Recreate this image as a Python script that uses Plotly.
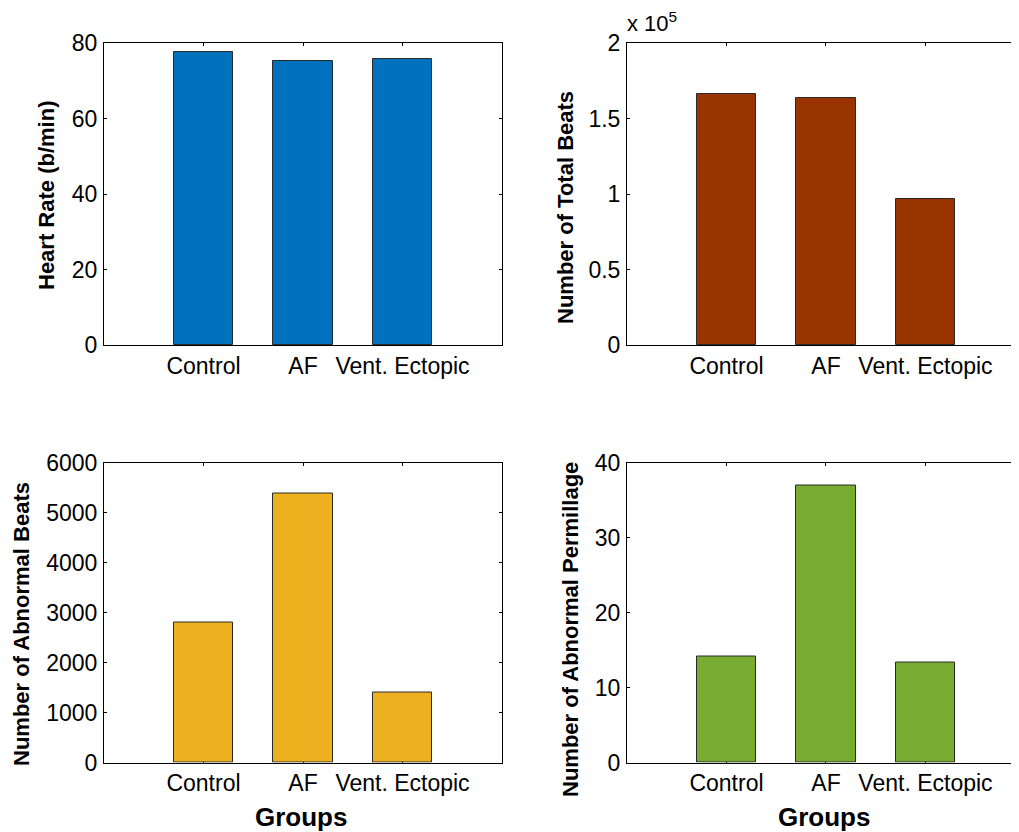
import plotly.graph_objects as go

categories = ["Control", "AF", "Vent. Ectopic"]
x_pos = [1, 2, 3]
heart_rate = [77.5, 75.3, 75.7]
total_beats = [166500, 163700, 97000]
abnormal_beats = [2800, 5375, 1395]
abnormal_permillage = [14.2, 37.0, 13.4]

colors = ["#0072BD", "#993300", "#EDB120", "#77AC30"]

# the page body has an 8px margin; work in page pixels and convert
OFF = 8
W, H = 1011, 824
FONT = "Arial, 'Liberation Sans', Helvetica, sans-serif"

def px_x(p):
    return (p - OFF) / W

def px_y(p):
    return 1 - (p - OFF) / H

fig = go.Figure()

panels = [
    (heart_rate, colors[0], (104, 502), (43, 345), [0, 80], [0, 20, 40, 60, 80], ["0", "20", "40", "60", "80"], True, [0, 4]),
    (total_beats, colors[1], (627, 1019), (43, 345), [0, 200000], [0, 50000, 100000, 150000, 200000], ["0", "0.5", "1", "1.5", "2"], False, [0, 3.94]),
    (abnormal_beats, colors[2], (104, 502), (462.5, 762.5), [0, 6000], [0, 1000, 2000, 3000, 4000, 5000, 6000], ["0", "1000", "2000", "3000", "4000", "5000", "6000"], True, [0, 4]),
    (abnormal_permillage, colors[3], (627, 1019), (462.5, 762.5), [0, 40], [0, 10, 20, 30, 40], ["0", "10", "20", "30", "40"], False, [0, 3.94]),
]

for i, (vals, col, xd, yd, yr, tv, tt, right, xr) in enumerate(panels):
    n = i + 1
    xa = "x" if n == 1 else f"x{n}"
    ya = "y" if n == 1 else f"y{n}"
    fig.add_trace(go.Bar(
        x=x_pos, y=vals, width=0.6, xaxis=xa, yaxis=ya,
        marker=dict(color=col, line=dict(color="#2a2a2a", width=1)),
        showlegend=False, hoverinfo="skip",
    ))
    xkey = "xaxis" if n == 1 else f"xaxis{n}"
    ykey = "yaxis" if n == 1 else f"yaxis{n}"
    fig.update_layout(**{
        xkey: dict(
            domain=[max(0, px_x(xd[0])), min(1, px_x(xd[1]))], range=xr, anchor=ya,
            tickmode="array", tickvals=x_pos, ticktext=categories,
            showline=True, linecolor="black", linewidth=1,
            mirror="ticks", ticks="inside", ticklen=3, tickcolor="black",
            showgrid=False, zeroline=False, layer="below traces",
            tickfont=dict(family=FONT, size=23, color="black"),
            ticklabelstandoff=0, fixedrange=True, automargin=False,
        ),
        ykey: dict(
            domain=[px_y(yd[1]), px_y(yd[0])], range=yr, anchor=xa,
            tickmode="array", tickvals=tv, ticktext=tt,
            showline=True, linecolor="black", linewidth=1,
            mirror="ticks" if right else False, ticks="inside", ticklen=3, tickcolor="black",
            showgrid=False, zeroline=False,
            tickfont=dict(family=FONT, size=23, color="black"),
            ticklabelstandoff=1, fixedrange=True, automargin=False,
        ),
    })

ylabels = [
    ("Heart Rate (b/min)", 46, 196),
    ("Number of Total Beats", 565, 208),
    ("Number of Abnormal Beats", 21, 624),
    ("Number of Abnormal Permillage", 570, 630),
]
annotations = []
for txt, cx, cy in ylabels:
    annotations.append(dict(
        text=f"<b>{txt}</b>", x=px_x(cx), y=px_y(cy), xref="paper", yref="paper",
        xanchor="center", yanchor="middle", textangle=-90, showarrow=False,
        font=dict(family=FONT, size=22, color="black"),
    ))
for cx in (301, 824):
    annotations.append(dict(
        text="<b>Groups</b>", x=px_x(cx), y=px_y(817), xref="paper", yref="paper",
        xanchor="center", yanchor="middle", showarrow=False,
        font=dict(family=FONT, size=26, color="black"),
    ))
annotations.append(dict(
    text="x 10<sup>5</sup>", x=px_x(625), y=px_y(38), xref="paper", yref="paper",
    xanchor="left", yanchor="bottom", showarrow=False,
    font=dict(family=FONT, size=22, color="black"),
))

fig.update_layout(
    width=W, height=H, margin=dict(l=0, r=0, t=0, b=0, pad=0, autoexpand=False),
    paper_bgcolor="white", plot_bgcolor="white",
    annotations=annotations, bargap=0,
)

fig.write_html("out.html")
